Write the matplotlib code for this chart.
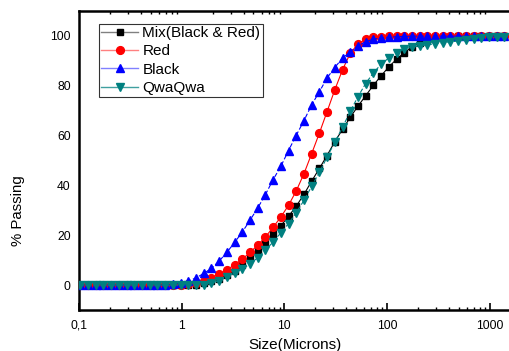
import matplotlib
matplotlib.use("Agg")
import matplotlib.pyplot as plt
from matplotlib.lines import Line2D
from matplotlib.ticker import FixedLocator, FixedFormatter, LogLocator, NullFormatter

plt.rcParams['font.family'] = ['Liberation Sans', 'DejaVu Sans']

size_um = [0.103, 0.122, 0.145, 0.173, 0.206, 0.244, 0.291, 0.345, 0.41, 0.488,
           0.58, 0.69, 0.82, 0.975, 1.16, 1.38, 1.64, 1.95, 2.31, 2.75,
           3.27, 3.89, 4.62, 5.49, 6.53, 7.76, 9.22, 10.96, 13.0, 15.5,
           18.4, 21.9, 26.0, 30.9, 36.8, 43.7, 52.0, 61.8, 73.5, 87.4,
           104, 124, 147, 175, 208, 247, 293, 349, 414, 493,
           585, 696, 827, 983, 1169, 1389]

mix = [0]*15 + [0.2, 0.7, 1.5, 2.6, 4.0, 5.8, 8.2, 11.0, 14.0, 17.2,
                20.5, 23.8, 27.6, 31.6, 36.4, 41.7, 46.8, 52.0, 57.5, 62.5,
                67.3, 71.8, 76.0, 80.2, 84.0, 87.6, 90.7, 93.3, 95.6, 97.2,
                98.2, 98.9, 99.3, 99.6, 99.8, 99.8, 99.8, 99.8, 99.8, 99.8,
                99.8]

red = [0]*14 + [0.3, 0.9, 1.8, 3.0, 4.4, 6.0, 8.2, 10.4, 13.1, 16.0,
                19.3, 23.2, 27.3, 32.0, 37.7, 44.7, 52.7, 61.0, 69.6, 78.3,
                86.4, 93.0, 96.8, 98.6, 99.4, 99.7, 99.9, 99.9, 99.9, 99.9,
                99.9, 99.9, 99.9, 99.9, 99.9, 99.9, 99.9, 99.9, 99.9, 99.9,
                99.9, 99.9]

black = [0]*12 + [0.3, 0.8, 1.6, 2.9, 4.7, 6.7, 9.6, 13.1, 17.1, 21.3,
                  26.0, 30.9, 36.3, 42.3, 47.6, 54.0, 60.0, 66.0, 72.3, 77.6,
                  83.1, 87.3, 91.1, 93.6, 96.0, 97.7, 98.7, 99.2, 99.5, 99.7,
                  99.8, 99.9, 99.9, 99.9, 99.9, 99.9, 99.9, 99.9, 99.9, 99.9,
                  99.9, 99.9, 99.9, 99.9]

qwaqwa = [0]*16 + [0.2, 0.7, 1.8, 3.2, 4.8, 6.5, 8.4, 11.0, 14.0, 17.3,
                   21.0, 24.7, 29.0, 34.0, 39.6, 45.3, 51.3, 57.3, 63.3, 69.7,
                   75.6, 80.9, 85.2, 88.6, 91.2, 93.3, 94.8, 95.5, 96.0, 96.4,
                   96.8, 97.2, 97.6, 98.0, 98.4, 98.8, 99.1, 99.4, 99.6, 99.7]

series_names = ["Mix(Black & Red)", "Red", "Black", "QwaQwa"]
xtick_vals = [0.1, 1, 10, 100, 1000]
xtick_labels = ["0,1", "1", "10", "100", "1000"]
ytick_vals = [0, 20, 40, 60, 80, 100]

fig = plt.figure(figsize=(5.10, 3.51), dpi=100)
ax = fig.add_axes([79/510, 41/351, 433/510, 299/351])

ax.plot(size_um, mix, color='black', lw=0.8, ls='-', marker='s', ms=4.8, zorder=3)
ax.plot(size_um, red, color='red', lw=0.8, ls='-', marker='o', ms=5.6, zorder=4)
ax.plot(size_um, black, color='blue', lw=0.8, ls=(0, (4, 2)), marker='^', ms=6, zorder=5)
ax.plot(size_um, qwaqwa, color='#008080', lw=0.8, ls=(0, (4, 2)), marker='v', ms=6, zorder=6)

ax.set_xscale('log')
ax.set_xlim(0.1, 1644)
ax.set_ylim(-10, 110)

ax.xaxis.set_major_locator(FixedLocator(xtick_vals))
ax.xaxis.set_major_formatter(FixedFormatter(xtick_labels))
ax.xaxis.set_minor_locator(LogLocator(base=10, subs=range(2, 10), numticks=20))
ax.xaxis.set_minor_formatter(NullFormatter())
ax.set_yticks(ytick_vals)

ax.tick_params(axis='x', which='major', direction='in', length=5, width=1.2,
               top=False, labelsize=8.7, pad=7)
ax.tick_params(axis='x', which='minor', direction='in', length=2.5, width=1,
               top=True)
ax.tick_params(axis='y', which='both', length=0, labelsize=8.7, pad=6)

for s in ax.spines.values():
    s.set_linewidth(1.8)

ax.set_xlabel("Size(Microns)", fontsize=11)
ax.xaxis.set_label_coords(0.499, -0.094)
ax.set_ylabel("% Passing", fontsize=10.8)
ax.yaxis.set_label_coords(-0.124, 0.334)

handles = [
    Line2D([], [], color='#808080', lw=1, marker='s', ms=4.8, mfc='black', mec='black'),
    Line2D([], [], color='#ff8080', lw=1, marker='o', ms=5.6, mfc='red', mec='red'),
    Line2D([], [], color='#8080ff', lw=1, marker='^', ms=6, mfc='blue', mec='blue'),
    Line2D([], [], color='#40a0a0', lw=1, marker='v', ms=6, mfc='#008080', mec='#008080'),
]
leg = ax.legend(handles, series_names, loc='upper left', bbox_to_anchor=(0.046, 0.957),
                fontsize=11, frameon=True, fancybox=False, borderpad=0.15,
                labelspacing=0.28, handlelength=2.4, handletextpad=0.3,
                borderaxespad=0)
leg.get_frame().set_edgecolor('black')
leg.get_frame().set_linewidth(0.8)

fig.savefig("out.png", dpi=100)
